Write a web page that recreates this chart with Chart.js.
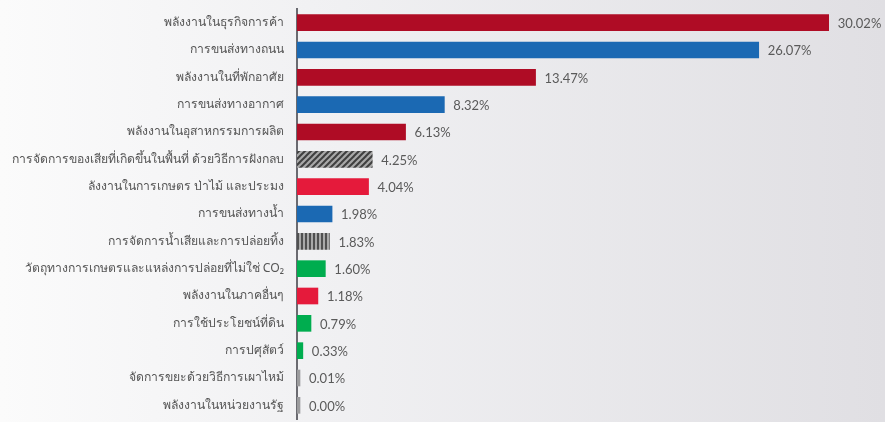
<!DOCTYPE html>
<html>
<head>
<meta charset="utf-8">
<script src="https://cdn.jsdelivr.net/npm/chart.js@4"></script>
<style>
  html, body { margin: 0; padding: 0; }
  body { width: 885px; height: 422px; background: linear-gradient(to right, #fbfbfb 0%, #f1f1f3 35%, #e0dfe3 100%); overflow: hidden; }
  #wrap { position: relative; width: 885px; height: 422px; }
</style>
</head>
<body>
<div id="wrap"><canvas id="c"></canvas></div>
<script>
const categories = [
  "พลังงานในธุรกิจการค้า",
  "การขนส่งทางถนน",
  "พลังงานในที่พักอาศัย",
  "การขนส่งทางอากาศ",
  "พลังงานในอุสาหกรรมการผลิต",
  "การจัดการของเสียที่เกิดขึ้นในพื้นที่ ด้วยวิธีการฝังกลบ",
  "ลังงานในการเกษตร ป่าไม้ และประมง",
  "การขนส่งทางน้ำ",
  "การจัดการน้ำเสียและการปล่อยทิ้ง",
  "วัตถุทางการเกษตรและแหล่งการปล่อยที่ไม่ใช่ CO₂",
  "พลังงานในภาคอื่นๆ",
  "การใช้ประโยชน์ที่ดิน",
  "การปศุสัตว์",
  "จัดการขยะด้วยวิธีการเผาไหม้",
  "พลังงานในหน่วยงานรัฐ"
];
const shares = [30.02, 26.07, 13.47, 8.32, 6.13, 4.25, 4.04, 1.98, 1.83, 1.60, 1.18, 0.79, 0.33, 0.01, 0.00];
const shareLabels = ["30.02%", "26.07%", "13.47%", "8.32%", "6.13%", "4.25%", "4.04%", "1.98%", "1.83%", "1.60%", "1.18%", "0.79%", "0.33%", "0.01%", "0.00%"];
const sectorGroups = ["energy", "transport", "energy", "transport", "energy", "wasteDiag", "energyBright", "transport", "wasteVert", "agri", "energyBright", "agri", "agri", "waste", "waste"];

function makeDiag() {
  const c = document.createElement('canvas'); c.width = 6; c.height = 6;
  const g = c.getContext('2d');
  g.fillStyle = '#a9a9a9'; g.fillRect(0, 0, 6, 6);
  g.strokeStyle = '#3f3f3f'; g.lineWidth = 2;
  g.beginPath(); g.moveTo(-1, 7); g.lineTo(7, -1); g.stroke();
  g.beginPath(); g.moveTo(-7, 7); g.lineTo(1, -1); g.stroke();
  g.beginPath(); g.moveTo(5, 7); g.lineTo(13, -1); g.stroke();
  return g.createPattern(c, 'repeat');
}
function makeVert() {
  const c = document.createElement('canvas'); c.width = 4; c.height = 4;
  const g = c.getContext('2d');
  g.fillStyle = '#a9a9a9'; g.fillRect(0, 0, 4, 4);
  g.fillStyle = '#505050'; g.fillRect(1, 0, 2, 4);
  return g.createPattern(c, 'repeat');
}
const palette = {
  energy: '#af0c25',
  transport: '#1b69b3',
  energyBright: '#e51a3b',
  agri: '#00ad4f',
  waste: '#9b9b9d',
  wasteDiag: makeDiag(),
  wasteVert: makeVert()
};

const valueLabelPlugin = {
  id: 'valueLabels',
  afterDatasetsDraw(chart) {
    const ctx = chart.ctx;
    const meta = chart.getDatasetMeta(0);
    ctx.save();
    ctx.font = '13px Lato, "Liberation Sans", sans-serif';
    ctx.fillStyle = '#5a5a5a';
    ctx.textAlign = 'left';
    ctx.textBaseline = 'middle';
    meta.data.forEach((bar, i) => {
      ctx.fillText(shareLabels[i], bar.x + 9, bar.y + 1);
    });
    ctx.restore();
  }
};

new Chart(document.getElementById('c'), {
  type: 'bar',
  data: {
    labels: categories,
    datasets: [{
      data: shares,
      backgroundColor: sectorGroups.map(g => palette[g]),
      borderWidth: 0,
      barThickness: 16,
      minBarLength: 3
    }]
  },
  options: {
    indexAxis: 'y',
    responsive: true,
    maintainAspectRatio: false,
    animation: false,
    layout: { padding: { top: 9, bottom: 3, left: 0, right: 0 } },
    plugins: { legend: { display: false }, tooltip: { enabled: false } },
    scales: {
      x: {
        min: 0, max: 33.2,
        display: false,
        grid: { display: false }
      },
      y: {
        afterFit(scale) { scale.width = 297; scale.paddingTop = 0; scale.paddingBottom = 0; },
        grid: { display: false, drawTicks: false },
        border: { display: true, color: '#6a6a70', width: 2 },
        ticks: {
          padding: 13,
          color: '#555555',
          font: { family: '"Noto Sans", "DejaVu Sans", sans-serif', size: 12.2 }
        }
      }
    }
  },
  plugins: [valueLabelPlugin]
});
</script>
</body>
</html>
